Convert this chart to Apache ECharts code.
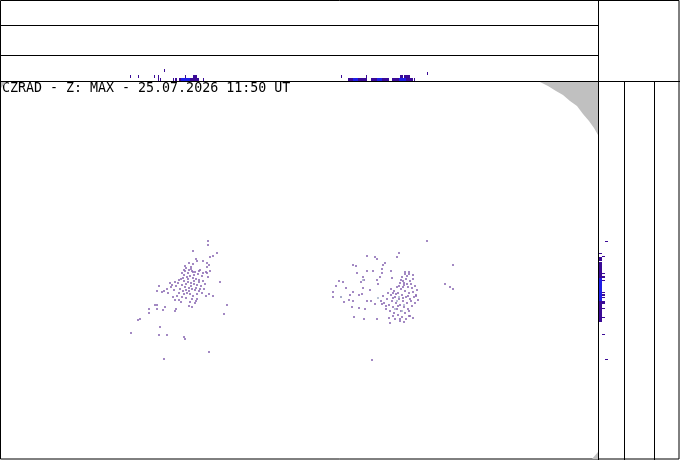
<!DOCTYPE html>
<html>
<head>
  <meta charset="utf-8">
  <title>CZRAD - Z: MAX</title>
  <script src="https://cdn.jsdelivr.net/npm/echarts@6/dist/echarts.min.js"></script>
  <style>
    html, body { margin: 0; padding: 0; background: #fff; }
    #chart { width: 680px; height: 460px; }
  </style>
</head>
<body>
  <div id="chart"></div>
  <script>
    // echo pixels in plan view (image px: x, y)
    const westEchoes = [
      [208,241],[208,245],[193,251],[217,253],[213,256],[210,257],[196,259],[197,261],[203,261],
      [189,263],[193,264],[207,263],[209,265],[207,267],[185,266],[191,267],[184,270],[191,269],
      [193,272],[182,273],[199,271],[210,271],[203,273],[207,273],[220,282],[159,286],[170,283],
      [157,291],[162,292],[209,294],[213,296],[173,297],[179,300],[197,299],[196,301],[190,302],
      [227,305],[155,305],[157,305],[165,307],[189,306],[192,307],[149,309],[157,309],[163,310],
      [176,309],[175,311],[149,313],[224,314],[140,319],[138,320],[160,327],[131,333],[159,335],
      [167,335],[184,337],[185,339],[209,352],[164,359],
      [186,268],[189,270],[192,271],[195,272],[198,274],[200,270],[202,276],[184,275],[187,277],
      [190,276],[193,278],[196,279],[199,280],[203,281],[181,279],[184,281],[188,282],[191,283],
      [194,284],[197,285],[201,286],[205,284],[178,283],[182,285],[185,287],[189,288],[192,289],
      [195,290],[199,291],[186,284],[180,289],[183,291],[187,293],[190,294],[193,296],[197,294],
      [200,289],[204,289],[176,286],[179,293],[182,297],[186,298],[171,287],[174,290],[168,293],
      [208,277],[206,272],[194,275],[188,273],[185,271],[191,286],[196,288],[189,291],[184,294],
      [177,296],[202,293],[206,296],[192,299],[175,300],[181,302],[195,303],[199,282],[194,281],
      [188,279],[183,278],[179,280],[175,282],[172,285],[167,289],[164,291],[186,290]
    ];
    const eastEchoes = [
      [427,241],[399,253],[397,257],[367,256],[375,257],[377,259],[453,265],[385,263],[383,265],
      [353,265],[356,266],[391,271],[382,269],[382,273],[373,271],[367,271],[409,272],[413,275],
      [405,274],[357,273],[363,277],[364,280],[361,282],[339,281],[343,282],[380,277],[377,280],
      [401,280],[404,283],[445,284],[450,287],[453,289],[407,284],[403,287],[363,288],[333,292],
      [333,297],[353,292],[350,295],[417,290],[416,295],[393,293],[341,297],[344,302],[349,300],
      [353,301],[359,295],[362,294],[367,301],[371,301],[381,301],[382,304],[375,304],[352,307],
      [359,308],[365,309],[386,306],[354,317],[364,319],[377,319],[389,318],[390,323],[409,316],
      [413,318],[400,319],[372,360],[378,284],[370,290],[346,288],[336,286],
      [405,272],[409,274],[402,277],[406,279],[410,281],[413,279],[400,283],[404,285],[408,287],
      [412,288],[415,286],[397,287],[401,289],[405,291],[409,293],[413,292],[394,291],[398,293],
      [402,295],[406,297],[410,299],[414,297],[391,295],[395,297],[399,299],[403,301],[407,303],
      [411,301],[415,303],[392,301],[396,303],[400,305],[404,307],[408,309],[412,306],[389,305],
      [393,307],[397,309],[401,311],[405,313],[409,311],[390,311],[394,313],[398,315],[402,317],
      [406,319],[410,316],[395,319],[400,321],[404,322],[387,299],[388,293],[386,309],[411,284],
      [407,276],[403,281],[399,286],[396,294],[393,298],[408,296],[403,298],[398,306],[393,316],
      [391,289],[416,296],[418,300],[384,303],[383,296],[392,278]
    ];
    const paleEchoes = [
      [397,301],[402,311],[341,297],[363,280],[399,297],[404,305],[395,309],[378,298]
    ];

    // outside-coverage mask (image px)
    const maskNE = [[540,82],[548,86],[556,91],[563,95],[570,101],[577,106],[583,114],[589,121],[594,128],[598,135],[598,82]];
    const maskNW = [[1,82],[6,82],[1,88]];
    const maskSE = [[598,452],[598,459],[592,459]];

    // side projections: [from, to, level, shade]
    const topRuns = [
      [130,130,2,0],[138,138,2,0],[154,154,2,0],[158,158,1,0],[158,158,2,0],[160,160,1,0],
      [164,164,4,0],[173,173,1,0],[175,176,1,0],[179,180,1,0],[181,189,1,1],[185,185,2,0],
      [190,198,1,0],[193,196,2,0],[203,203,1,0],
      [341,341,2,0],[348,352,1,0],[353,357,1,1],[358,366,1,0],[366,366,2,0],[371,376,1,0],
      [377,381,1,1],[382,388,1,0],[392,398,1,0],[399,405,1,1],[406,412,1,0],[400,402,2,0],
      [404,409,2,0],[414,414,1,0],[427,427,3,0]
    ];
    const sideRuns = [
      [241,241,3,0],[253,253,1,0],[256,256,2,0],[257,260,1,0],[262,265,1,0],[266,277,1,0],
      [278,300,1,1],[301,321,1,0],[273,273,2,0],[276,277,2,0],[280,280,2,0],[292,292,2,0],
      [294,295,2,0],[297,297,2,0],[301,303,2,0],[308,308,2,0],[317,317,2,0],[334,334,2,0],
      [359,359,3,0]
    ];
    const shades = ['#3a0a96', '#1e1ee6'];
    const title = 'CZRAD - Z: MAX - 25.07.2026 11:50 UT';

    let chart = echarts.init(document.getElementById('chart'));

    function polySeries(points) {
      return {
        type: 'custom', xAxisIndex: 0, yAxisIndex: 0, silent: true,
        data: [0],
        renderItem: function (params, api) {
          return {
            type: 'polygon',
            shape: { points: points.map(p => api.coord(p)) },
            style: { fill: '#c0c0c0' }
          };
        }
      };
    }

    let option = {
      animation: false,
      backgroundColor: '#fff',
      grid: [
        { left: 1, top: 82, width: 597, height: 377 },
        { left: 1, top: 56, width: 597, height: 25 },
        { left: 599, top: 82, width: 25, height: 377 }
      ],
      xAxis: [
        { gridIndex: 0, type: 'value', min: 1, max: 598, show: false },
        { gridIndex: 1, type: 'value', min: 1, max: 598, show: false },
        { gridIndex: 2, type: 'value', min: 0, max: 25, show: false }
      ],
      yAxis: [
        { gridIndex: 0, type: 'value', min: 82, max: 459, inverse: true, show: false },
        { gridIndex: 1, type: 'value', min: 0, max: 25, show: false },
        { gridIndex: 2, type: 'value', min: 82, max: 459, inverse: true, show: false }
      ],
      series: [
        polySeries(maskNE), polySeries(maskNW), polySeries(maskSE),
        {
          type: 'scatter', xAxisIndex: 0, yAxisIndex: 0, symbol: 'rect', symbolSize: 2,
          itemStyle: { color: '#8c6cb4' }, data: westEchoes.concat(eastEchoes)
        },
        {
          type: 'scatter', xAxisIndex: 0, yAxisIndex: 0, symbol: 'rect', symbolSize: 2,
          itemStyle: { color: '#a8b4cc' }, data: paleEchoes
        },
        {
          type: 'custom', xAxisIndex: 1, yAxisIndex: 1, data: topRuns,
          renderItem: function (params, api) {
            let a = api.coord([api.value(0), (api.value(2) - 1) * 3]);
            let b = api.coord([api.value(1) + 1, api.value(2) * 3]);
            return {
              type: 'rect',
              shape: { x: a[0], y: b[1], width: b[0] - a[0], height: a[1] - b[1] },
              style: { fill: shades[api.value(3)] }
            };
          }
        },
        {
          type: 'custom', xAxisIndex: 2, yAxisIndex: 2, data: sideRuns,
          renderItem: function (params, api) {
            let a = api.coord([(api.value(2) - 1) * 3, api.value(0)]);
            let b = api.coord([api.value(2) * 3, api.value(1) + 1]);
            return {
              type: 'rect',
              shape: { x: a[0], y: a[1], width: b[0] - a[0], height: b[1] - a[1] },
              style: { fill: shades[api.value(3)] }
            };
          }
        }
      ],
      graphic: [
        { type: 'rect', shape: { x: 0.5, y: 0.5, width: 678.5, height: 458.5 }, style: { fill: null, stroke: '#000', lineWidth: 1 } },
        { type: 'line', shape: { x1: 0, y1: 25.5, x2: 598, y2: 25.5 }, style: { stroke: '#000', lineWidth: 1 } },
        { type: 'line', shape: { x1: 0, y1: 55.5, x2: 598, y2: 55.5 }, style: { stroke: '#000', lineWidth: 1 } },
        { type: 'line', shape: { x1: 0, y1: 81.5, x2: 680, y2: 81.5 }, style: { stroke: '#000', lineWidth: 1 } },
        { type: 'line', shape: { x1: 598.5, y1: 0, x2: 598.5, y2: 460 }, style: { stroke: '#000', lineWidth: 1 } },
        { type: 'line', shape: { x1: 624.5, y1: 81, x2: 624.5, y2: 460 }, style: { stroke: '#000', lineWidth: 1 } },
        { type: 'line', shape: { x1: 654.5, y1: 81, x2: 654.5, y2: 460 }, style: { stroke: '#000', lineWidth: 1 } },
        {
          type: 'text', left: 2, top: 82,
          style: { text: title, font: '13.3px "DejaVu Sans Mono", monospace', fill: '#000' }
        }
      ]
    };
    chart.setOption(option);
  </script>
</body>
</html>
